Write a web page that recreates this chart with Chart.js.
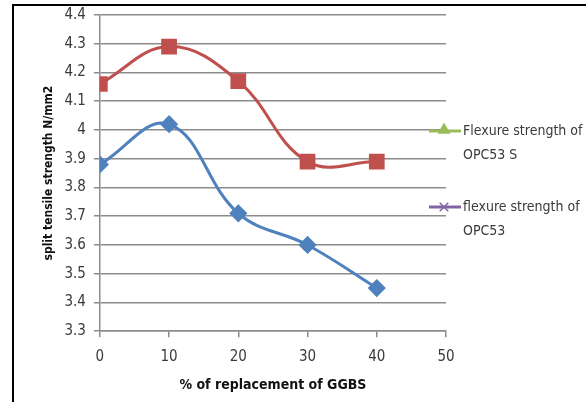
<!DOCTYPE html>
<html>
<head>
<meta charset="utf-8">
<script src="https://cdn.jsdelivr.net/npm/chart.js@4"></script>
<style>
  html, body { margin: 0; padding: 0; background: #fff; overflow: hidden; }
  #wrap { position: relative; width: 586px; height: 402px; overflow: hidden; }
  #frame { position: absolute; left: 12px; top: 4px; right: 0; bottom: 0;
           border-left: 2px solid #000; border-top: 2px solid #000; pointer-events: none; }
  canvas { position: absolute; left: 0; top: -2px; }
</style>
</head>
<body>
<div id="wrap">
  <canvas id="chart" width="586" height="404"></canvas>
  <div id="frame"></div>
</div>
<script>
// data
const categories = [0, 10, 20, 30, 40];
const opc53sValues = [4.16, 4.29, 4.17, 3.89, 3.89];
const opc53Values = [3.88, 4.02, 3.71, 3.60, 3.45];
const xTicks = [0, 10, 20, 30, 40, 50];
const yTicks = [3.3, 3.4, 3.5, 3.6, 3.7, 3.8, 3.9, 4.0, 4.1, 4.2, 4.3, 4.4];
const legendLabels = [['Flexure strength of', 'OPC53 S'], ['flexure strength of', 'OPC53']];

const FONT = '"Liberation Sans Narrow", "DejaVu Sans Condensed", "Open Sans", sans-serif';
const TEXT = '#3a3a3a';

// legend drawn by hand: Excel put entries that do not match the plotted colours
const sideLegend = {
  id: 'sideLegend',
  afterDraw(chart) {
    const ctx = chart.ctx;
    const items = [
      { color: '#9BBB59', style: 'triangle', y: 133 },
      { color: '#8064A2', style: 'crossRot', y: 209 }
    ];
    ctx.save();
    items.forEach((it, i) => {
      ctx.strokeStyle = it.color;
      ctx.lineWidth = 3;
      ctx.beginPath();
      ctx.moveTo(429, it.y);
      ctx.lineTo(461, it.y);
      ctx.stroke();
      ctx.fillStyle = it.color;
      ctx.lineWidth = 1.5;
      Chart.helpers.drawPoint(ctx, { pointStyle: it.style, radius: 6, rotation: 0, borderWidth: 1.5 }, 444, it.y - (it.style === 'triangle' ? 1 : 0));
      ctx.fillStyle = TEXT;
      ctx.font = '14px ' + FONT;
      ctx.textBaseline = 'middle';
      ctx.textAlign = 'left';
      legendLabels[i].forEach((line, j) => ctx.fillText(line, 463, it.y + j * 24));
    });
    ctx.restore();
  }
};

new Chart(document.getElementById('chart'), {
  type: 'line',
  data: {
    datasets: [
      {
        label: 'Flexure strength of OPC53 S',
        data: categories.map((x, i) => ({ x: x, y: opc53sValues[i] })),
        borderColor: '#C0504D',
        backgroundColor: '#C0504D',
        borderWidth: 3,
        tension: 0.4,
        pointStyle: 'rect',
        pointRadius: 9,
        pointHoverRadius: 9
      },
      {
        label: 'flexure strength of OPC53',
        data: categories.map((x, i) => ({ x: x, y: opc53Values[i] })),
        borderColor: '#4F81BD',
        backgroundColor: '#4F81BD',
        borderWidth: 3,
        tension: 0.4,
        pointStyle: 'rectRot',
        pointRadius: 7,
        pointHoverRadius: 7
      }
    ]
  },
  options: {
    responsive: false,
    animation: false,
    layout: { padding: { top: 4, right: 140, left: 38, bottom: 4 } },
    plugins: { legend: { display: false }, tooltip: { enabled: false } },
    scales: {
      x: {
        type: 'linear',
        min: 0,
        max: 50,
        afterBuildTicks: axis => { axis.ticks = xTicks.map(v => ({ value: v })); },
        grid: { drawOnChartArea: false, color: '#8c8c8c', lineWidth: 1.5, tickLength: 6 },
        border: { color: '#8c8c8c', width: 1.5 },
        ticks: { color: TEXT, font: { family: FONT, size: 15 }, padding: 11, maxRotation: 0 },
        title: { display: true, text: '% of replacement of GGBS', color: '#111',
                 font: { family: FONT, size: 14, weight: 'bold' }, padding: { top: 0 } }
      },
      y: {
        min: 3.3,
        max: 4.4,
        afterBuildTicks: axis => { axis.ticks = yTicks.map(v => ({ value: v })); },
        grid: { color: '#8c8c8c', lineWidth: 1.5, tickLength: 6 },
        border: { color: '#8c8c8c', width: 1.5 },
        ticks: { color: TEXT, font: { family: FONT, size: 15 }, padding: 8,
                 callback: v => String(Number(v.toFixed(1))) },
        title: { display: true, text: 'split tensile strength N/mm2', color: '#111',
                 font: { family: FONT, size: 12, weight: 'bold' }, padding: { top: 4, bottom: 0 } }
      }
    }
  },
  plugins: [sideLegend]
});
</script>
</body>
</html>
